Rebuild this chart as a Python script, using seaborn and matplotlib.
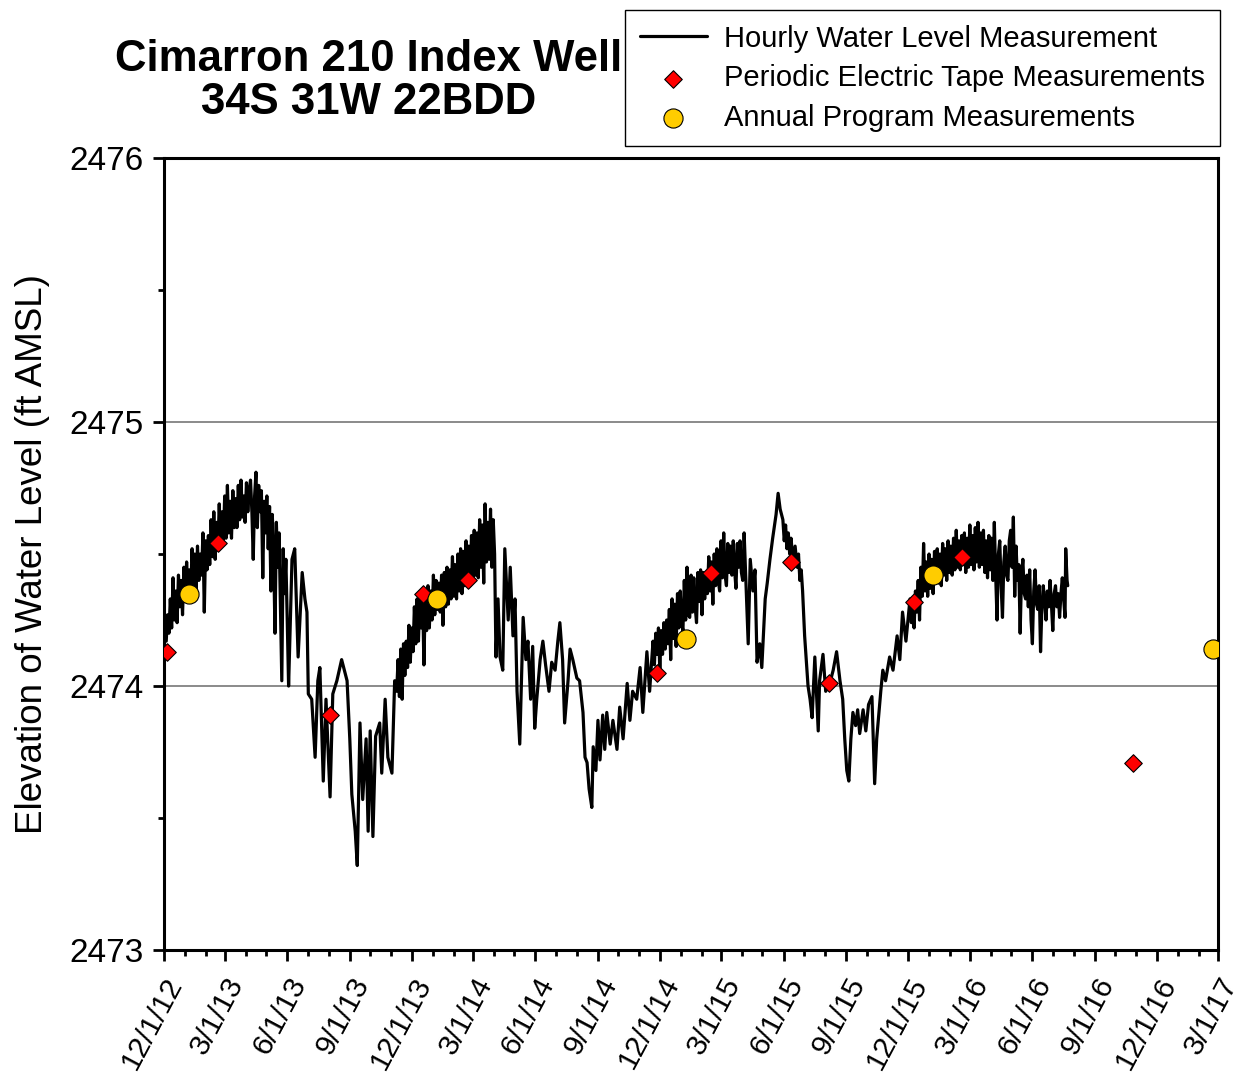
import pandas as pd
import seaborn as sns
import matplotlib.pyplot as plt
import matplotlib.dates as mdates
from matplotlib.ticker import MultipleLocator

# days after 12/1/2012 and water level (ft AMSL)
start = pd.Timestamp("2012-12-01")

hourly_days = [
    4, 6, 8, 10, 12, 14, 16, 18, 20, 22, 24, 26, 28, 30, 32, 34, 36, 38, 40, 42,
    44, 46, 48, 50, 52, 54, 56, 58, 60, 62, 64, 66, 68, 70, 72, 74, 76, 78, 80, 82,
    84, 86, 88, 90, 92, 94, 96, 98, 100, 102, 104, 106, 108, 110, 112, 114, 116, 118, 120, 122,
    124, 126, 128, 130,
    132, 134, 136, 138, 140, 142, 144, 146, 148, 150, 152, 154, 156, 158, 160, 162,
    164, 166, 168, 170, 172, 174, 176, 178, 180, 182, 184,
    189, 193, 198, 204, 208, 211, 213, 218, 223, 227, 230, 235, 239, 245, 249, 255,
    262, 270, 274, 277, 282, 285, 289, 293, 298, 301, 304, 308, 312, 318, 321, 326,
    330, 336, 340,
    343, 345, 347, 349, 351, 353, 355, 357, 359, 361, 363, 365, 367, 369, 371, 373,
    375, 377, 379, 381, 383, 385, 387, 389, 391, 393, 395, 397, 399, 401, 403, 405,
    407, 409, 411, 413, 415, 417, 419, 421, 423, 425, 427, 429, 431, 433, 435, 437,
    439, 441, 443, 445, 447, 449, 451, 453, 455, 457, 459, 461, 463, 465, 467, 469,
    471, 473, 475, 477, 479, 481, 483, 485, 487,
    489, 492, 495, 499, 502, 507, 510, 514, 517, 520, 524, 529, 533, 536, 540, 543,
    546, 549, 554, 558, 562, 567, 571, 576, 580, 583, 587, 590, 595, 598, 602, 608,
    612, 617, 620, 623, 626, 630, 632, 636, 639, 642, 646, 649, 652, 657, 661, 667,
    671, 676, 682, 686, 690, 696, 701, 705, 711, 715,
    720, 722, 724, 726, 728, 730, 732, 734, 736, 738, 740, 742, 744, 746, 748, 750,
    752, 754, 756, 758, 760, 762, 764, 766, 768, 770, 772, 774, 776, 778, 780, 782,
    784, 786, 788, 790, 792, 794, 796, 798, 800, 802, 804, 806, 808, 810, 812, 814,
    816, 818, 820, 822, 824, 826, 828, 830, 832, 834, 836, 838, 840, 842, 844, 846,
    848, 850, 852, 854, 856,
    860, 863, 867, 870, 873, 877, 880, 885, 888, 892, 896, 901, 904, 907, 911, 913,
    915, 917, 919, 921, 923, 926, 929, 932, 934, 936, 938, 940, 943, 948, 951, 954,
    958, 963, 965, 970, 974, 980, 985, 990, 995, 999, 1002, 1005, 1008, 1011, 1014, 1018,
    1021, 1024, 1029, 1033, 1037, 1042, 1046, 1049, 1051, 1055, 1058, 1062, 1068, 1073, 1079, 1083,
    1087, 1092,
    1098, 1100, 1102, 1104, 1106, 1108, 1110, 1112, 1114, 1116, 1118, 1120, 1122, 1124, 1126, 1128,
    1130, 1132, 1134, 1136, 1138, 1140, 1142, 1144, 1146, 1148, 1150, 1152, 1154, 1156, 1158, 1160,
    1162, 1164, 1166, 1168, 1170, 1172, 1174, 1176, 1178, 1180, 1182, 1184, 1186, 1188, 1190, 1192,
    1194, 1196, 1198, 1200, 1202, 1204, 1206, 1208, 1210, 1212, 1214, 1216, 1218, 1220, 1222, 1224,
    1226, 1228, 1230, 1232, 1234, 1236, 1238, 1240, 1242, 1244, 1246, 1248, 1250, 1252, 1254, 1256,
    1258, 1260, 1262, 1264, 1266, 1268, 1270, 1272, 1274, 1276, 1278, 1280, 1282, 1284, 1286, 1288,
    1290, 1292, 1294, 1296, 1298, 1300, 1302, 1304, 1306, 1308, 1310, 1312, 1314, 1316, 1318, 1320,
    1322, 1324, 1326, 1327, 1329, 1330,
]
hourly_level = [
    2474.17, 2474.27, 2474.20, 2474.33, 2474.22, 2474.41, 2474.25, 2474.36, 2474.24, 2474.42,
    2474.30, 2474.40, 2474.27, 2474.45, 2474.32, 2474.47, 2474.35, 2474.44, 2474.34, 2474.52,
    2474.38, 2474.50, 2474.36, 2474.53, 2474.40, 2474.50, 2474.42, 2474.58, 2474.28, 2474.55,
    2474.44, 2474.57, 2474.46, 2474.63, 2474.49, 2474.66, 2474.48, 2474.62, 2474.52, 2474.69,
    2474.53, 2474.66, 2474.55, 2474.72, 2474.56, 2474.76, 2474.58, 2474.70, 2474.56, 2474.74,
    2474.60, 2474.71, 2474.60, 2474.76, 2474.63, 2474.78, 2474.64, 2474.72, 2474.62, 2474.77,
    2474.66, 2474.74, 2474.78, 2474.66,
    2474.48, 2474.72, 2474.81, 2474.60, 2474.76, 2474.66, 2474.74, 2474.41, 2474.70, 2474.58,
    2474.72, 2474.52, 2474.68, 2474.36, 2474.65, 2474.50, 2474.20, 2474.62, 2474.45, 2474.58,
    2474.30, 2474.02, 2474.52, 2474.35, 2474.48, 2474.25, 2474.00,
    2474.48, 2474.52, 2474.11, 2474.43, 2474.33, 2474.28, 2473.97, 2473.95, 2473.73, 2474.02,
    2474.07, 2473.64, 2473.95, 2473.58, 2473.97, 2474.02, 2474.10, 2474.02, 2473.80, 2473.59,
    2473.45, 2473.32, 2473.86, 2473.57, 2473.80, 2473.45, 2473.83, 2473.43, 2473.81, 2473.86,
    2473.67, 2473.95, 2473.73, 2473.67, 2474.02,
    2473.98, 2474.10, 2473.96, 2474.14, 2473.95, 2474.16, 2474.04, 2474.17, 2474.07, 2474.23,
    2474.09, 2474.22, 2474.13, 2474.30, 2474.16, 2474.33, 2474.17, 2474.34, 2474.22, 2474.36,
    2474.08, 2474.33, 2474.21, 2474.38, 2474.22, 2474.36, 2474.25, 2474.42, 2474.27, 2474.40,
    2474.29, 2474.39, 2474.28, 2474.42, 2474.23, 2474.43, 2474.30, 2474.45, 2474.31, 2474.44,
    2474.33, 2474.49, 2474.34, 2474.46, 2474.33, 2474.50, 2474.36, 2474.52, 2474.35, 2474.51,
    2474.38, 2474.55, 2474.39, 2474.53, 2474.38, 2474.57, 2474.41, 2474.59, 2474.42, 2474.58,
    2474.41, 2474.63, 2474.45, 2474.61, 2474.39, 2474.69, 2474.47, 2474.62, 2474.48, 2474.67,
    2474.45, 2474.63, 2474.50,
    2474.11, 2474.33, 2474.11, 2474.06, 2474.52, 2474.25, 2474.45, 2474.19, 2474.33, 2473.98,
    2473.78, 2474.26, 2474.10, 2474.17, 2473.95, 2474.15, 2473.84, 2473.95, 2474.10, 2474.17,
    2474.08, 2473.98, 2474.09, 2474.06, 2474.17, 2474.24, 2474.10, 2473.86, 2474.02, 2474.14,
    2474.10, 2474.03, 2474.02, 2473.90, 2473.73, 2473.71, 2473.61, 2473.54, 2473.77, 2473.68,
    2473.87, 2473.72, 2473.89, 2473.76, 2473.90, 2473.78, 2473.87, 2473.76, 2473.92, 2473.80,
    2474.01, 2473.87, 2473.98, 2473.95, 2474.07, 2473.90, 2474.13, 2473.98,
    2474.17, 2474.08, 2474.20, 2474.12, 2474.22, 2474.06, 2474.21, 2474.12, 2474.24, 2474.14,
    2474.25, 2474.16, 2474.29, 2474.10, 2474.33, 2474.18, 2474.31, 2474.15, 2474.35, 2474.22,
    2474.36, 2474.24, 2474.21, 2474.40, 2474.25, 2474.45, 2474.27, 2474.26, 2474.42, 2474.28,
    2474.41, 2474.30, 2474.24, 2474.43, 2474.32, 2474.44, 2474.27, 2474.43, 2474.33, 2474.42,
    2474.35, 2474.49, 2474.36, 2474.47, 2474.31, 2474.50, 2474.38, 2474.52, 2474.40, 2474.36,
    2474.55, 2474.41, 2474.58, 2474.42, 2474.38, 2474.54, 2474.43, 2474.53, 2474.42, 2474.55,
    2474.44, 2474.37, 2474.54, 2474.45, 2474.55, 2474.43, 2474.40, 2474.58, 2474.44,
    2474.16, 2474.48, 2474.36, 2474.44, 2474.09, 2474.16, 2474.07, 2474.33, 2474.39, 2474.48,
    2474.56, 2474.65, 2474.73, 2474.67, 2474.63, 2474.55, 2474.61, 2474.52, 2474.58, 2474.50,
    2474.56, 2474.47, 2474.53, 2474.45, 2474.50, 2474.40, 2474.44, 2474.36, 2474.19, 2474.00,
    2473.95, 2473.88, 2474.11, 2473.83, 2474.02, 2474.12, 2473.98, 2474.01, 2474.06, 2474.13,
    2474.02, 2473.95, 2473.80, 2473.68, 2473.64, 2473.80, 2473.90, 2473.85, 2473.91, 2473.82,
    2473.91, 2473.83, 2473.93, 2473.96, 2473.63, 2473.80, 2473.86, 2473.98, 2474.06, 2474.02,
    2474.11, 2474.06, 2474.19, 2474.10, 2474.28, 2474.17,
    2474.33, 2474.24, 2474.30, 2474.22, 2474.36, 2474.28, 2474.40, 2474.25, 2474.45, 2474.34,
    2474.54, 2474.36, 2474.47, 2474.34, 2474.50, 2474.37, 2474.48, 2474.35, 2474.51, 2474.40,
    2474.52, 2474.39, 2474.50, 2474.38, 2474.54, 2474.42, 2474.52, 2474.40, 2474.55, 2474.43,
    2474.53, 2474.42, 2474.56, 2474.44, 2474.59, 2474.45, 2474.55, 2474.44, 2474.57, 2474.46,
    2474.58, 2474.43, 2474.56, 2474.45, 2474.61, 2474.46, 2474.57, 2474.44, 2474.60, 2474.47,
    2474.62, 2474.45, 2474.58, 2474.46, 2474.59, 2474.43, 2474.55, 2474.41, 2474.57, 2474.44,
    2474.56, 2474.40, 2474.62, 2474.42, 2474.25, 2474.50, 2474.55, 2474.38, 2474.26, 2474.47,
    2474.53, 2474.42, 2474.40, 2474.55, 2474.59, 2474.45, 2474.64, 2474.34, 2474.53, 2474.40,
    2474.46, 2474.20, 2474.42, 2474.48, 2474.35, 2474.33, 2474.42, 2474.30, 2474.44, 2474.25,
    2474.16, 2474.36, 2474.44, 2474.31, 2474.29, 2474.38, 2474.13, 2474.30, 2474.38, 2474.32,
    2474.25, 2474.36, 2474.30, 2474.40, 2474.31, 2474.21, 2474.35, 2474.38, 2474.30, 2474.35,
    2474.26, 2474.35, 2474.41, 2474.33, 2474.26, 2474.52, 2474.40, 2474.38,
]

tape_days = [5, 80, 245, 382, 448, 726, 805, 923, 979, 1104, 1174, 1426]
tape_level = [2474.13, 2474.54, 2473.89, 2474.35, 2474.40, 2474.05, 2474.43,
              2474.47, 2474.01, 2474.32, 2474.49, 2473.71]

annual_days = [38, 402, 768, 1132, 1543]
annual_level = [2474.35, 2474.33, 2474.18, 2474.42, 2474.14]

hourly = pd.DataFrame({"date": start + pd.to_timedelta(hourly_days, unit="D"),
                       "level": hourly_level})
tape = pd.DataFrame({"date": start + pd.to_timedelta(tape_days, unit="D"),
                     "level": tape_level})
annual = pd.DataFrame({"date": start + pd.to_timedelta(annual_days, unit="D"),
                       "level": annual_level})

sns.set_style("ticks")
plt.rcParams["font.family"] = ["Liberation Sans", "DejaVu Sans"]
plt.rcParams.update({"text.color": "black", "axes.labelcolor": "black",
                     "xtick.color": "black", "ytick.color": "black"})

fig = plt.figure(figsize=(12.5, 10.84), dpi=100)
ax = fig.add_axes([0.1308, 0.1236, 0.8436, 0.7306])

sns.lineplot(data=hourly, x="date", y="level", ax=ax, color="black",
             linewidth=2.3, estimator=None, label="Hourly Water Level Measurement")
sns.scatterplot(data=tape, x="date", y="level", ax=ax, marker="D", s=80,
                color="#FF0000", edgecolor="black", linewidth=0.8, zorder=5,
                label="Periodic Electric Tape Measurements")
sns.scatterplot(data=annual, x="date", y="level", ax=ax, marker="o", s=190,
                color="#FFCC00", edgecolor="black", linewidth=0.8, zorder=6,
                label="Annual Program Measurements")

ax.set_xlim(pd.Timestamp("2012-12-01"), pd.Timestamp("2017-03-01"))
ax.set_ylim(2473, 2476)
ax.yaxis.set_major_locator(MultipleLocator(1))
ax.yaxis.set_minor_locator(MultipleLocator(0.5))
ax.xaxis.set_major_locator(mdates.MonthLocator(bymonth=[3, 6, 9, 12]))
ax.xaxis.set_minor_locator(mdates.MonthLocator())
ax.xaxis.set_major_formatter(
    plt.FuncFormatter(lambda v, p: "{d.month}/{d.day}/{y}".format(
        d=mdates.num2date(v), y=mdates.num2date(v).strftime("%y"))))

for y in [2474, 2475]:
    ax.axhline(y, color="#777777", linewidth=1.2, zorder=0)

for s in ax.spines.values():
    s.set_visible(True)
    s.set_linewidth(2.2)
    s.set_color("black")

ax.tick_params(which="major", length=8, width=2, labelsize=24, direction="out", pad=6)
ax.tick_params(which="minor", length=4.5, width=2, direction="out")
ax.tick_params(axis="x", which="major", labelsize=21.5, pad=8)
for lab in ax.get_xticklabels():
    lab.set_rotation(62)
    lab.set_ha("right")
    lab.set_rotation_mode("anchor")

ax.set_xlabel("")
ax.set_ylabel("Elevation of Water Level (ft AMSL)", fontsize=26.5, labelpad=14)

fig.text(0.295, 1 - 81 / 1084, "Cimarron 210 Index Well\n34S 31W 22BDD",
         ha="center", va="center", fontsize=31.5, fontweight="bold", linespacing=1.05)

ax.legend(loc="upper right", bbox_to_anchor=(1220 / 1250, 1 - 10 / 1084),
          bbox_transform=fig.transFigure, borderaxespad=0, fontsize=21,
          frameon=True, fancybox=False, edgecolor="black", framealpha=1,
          handlelength=2.3, labelspacing=0.4, borderpad=0.5, handletextpad=0.6)
ax.get_legend().get_frame().set_linewidth(1)

fig.savefig("out.png", dpi=100)
